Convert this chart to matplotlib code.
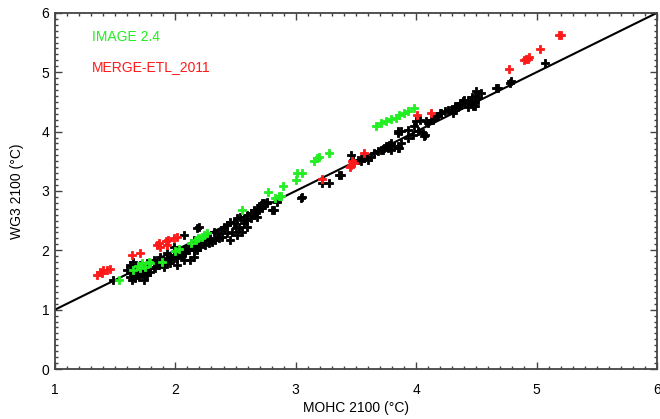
import numpy as np
import matplotlib.pyplot as plt
from matplotlib.ticker import MultipleLocator

plt.rcParams['font.family'] = ['Liberation Sans', 'DejaVu Sans']

# values (MOHC 2100, WG3 2100)
black_x = [1.486, 1.639, 1.667, 1.694, 1.653, 1.681, 1.722, 1.750, 1.778, 1.792,
           1.819, 1.847, 1.875, 1.903, 1.931, 1.958, 1.986, 2.014, 2.056, 2.083,
           2.111, 2.153, 2.181, 2.208, 2.250, 2.278, 2.306, 2.333, 2.361, 2.389,
           2.403, 2.431, 2.472, 2.500, 2.528, 2.569, 2.597, 2.625, 2.653, 2.667,
           2.694, 2.722, 2.736, 2.764, 2.806, 2.847, 2.153, 2.125, 2.069, 2.042,
           1.986, 1.931, 1.875, 1.819, 1.764, 1.708, 1.625, 1.667, 1.750, 1.792,
           2.069, 2.458, 2.514, 2.556, 2.597, 2.681,
           1.597, 1.625, 1.667, 1.652, 1.708, 1.736, 1.764, 1.791, 1.833, 1.861,
           1.902, 1.930, 1.958, 1.986, 2.014, 2.041, 2.069, 2.097, 2.125, 2.152,
           2.180, 2.208, 2.236, 2.264, 2.291, 2.319, 2.347, 2.375, 2.402, 2.430,
           2.458, 2.486, 2.513, 2.541, 2.569, 2.597, 2.625, 2.652, 2.680, 2.708,
           2.736, 2.763, 2.180, 2.194, 1.958, 2.014, 1.819, 1.736, 2.152,
           2.722, 2.819, 3.041, 3.055, 3.222, 3.278, 3.375, 3.458, 3.514, 3.542,
           3.569, 3.597, 3.625, 3.652, 3.680, 3.708, 3.736, 3.750, 3.777, 3.791,
           3.819, 3.847, 3.875, 3.930, 3.972, 4.014, 3.847,
           3.361, 3.473, 3.570, 3.723, 3.764, 3.861, 3.792, 3.848, 3.931, 3.986,
           4.056, 4.070, 4.084, 4.125, 4.167, 4.195, 4.236, 4.264, 4.306, 4.320,
           4.348, 4.375, 4.403, 4.431, 4.459, 4.487, 4.514, 4.542, 4.681, 4.792,
           3.875, 4.000, 4.028, 4.069, 4.097, 4.139, 4.181, 4.208, 4.292, 4.319,
           4.361, 4.389, 4.458, 4.472, 4.486, 4.778, 5.069,
           4.320, 4.375, 4.400, 4.460, 4.500, 4.430, 4.490, 4.667]
black_y = [1.501, 1.501, 1.529, 1.557, 1.613, 1.641, 1.670, 1.641, 1.698, 1.641,
           1.726, 1.754, 1.782, 1.726, 1.810, 1.838, 1.866, 1.894, 1.923, 1.951,
           2.007, 2.035, 2.007, 2.063, 2.091, 2.119, 2.147, 2.175, 2.204, 2.232,
           2.400, 2.288, 2.316, 2.372, 2.400, 2.457, 2.513, 2.541, 2.597, 2.653,
           2.681, 2.709, 2.766, 2.794, 2.681, 2.822, 1.894, 1.838, 1.838, 1.979,
           2.063, 1.951, 1.894, 1.838, 1.782, 1.754, 1.754, 1.698, 1.585, 1.726,
           2.260, 2.175, 2.260, 2.316, 2.400, 2.569,
           1.670, 1.557, 1.585, 1.810, 1.613, 1.670, 1.585, 1.726, 1.698, 1.754,
           1.782, 1.866, 1.894, 1.923, 1.866, 1.951, 2.007, 2.035, 2.063, 2.007,
           2.091, 2.147, 2.175, 2.232, 2.204, 2.316, 2.288, 2.344, 2.372, 2.428,
           2.485, 2.457, 2.541, 2.569, 2.513, 2.597, 2.625, 2.681, 2.709, 2.766,
           2.794, 2.822, 2.372, 2.400, 1.782, 1.754, 1.810, 1.501, 2.175,
           2.793, 2.681, 2.878, 2.906, 3.131, 3.131, 3.271, 3.608, 3.524, 3.496,
           3.552, 3.524, 3.580, 3.637, 3.665, 3.693, 3.721, 3.749, 3.777, 3.693,
           3.749, 3.721, 3.805, 3.889, 3.946, 4.002, 3.974,
           3.272, 3.525, 3.581, 3.694, 3.722, 3.722, 3.806, 4.003, 4.031, 4.087,
           3.975, 3.947, 4.171, 4.199, 4.256, 4.312, 4.340, 4.368, 4.312, 4.396,
           4.424, 4.452, 4.481, 4.537, 4.509, 4.424, 4.565, 4.649, 4.733, 4.846,
           4.002, 4.171, 4.199, 3.918, 4.143, 4.199, 4.255, 4.312, 4.368, 4.424,
           4.480, 4.508, 4.480, 4.424, 4.593, 4.818, 5.155,
           4.370, 4.480, 4.540, 4.590, 4.680, 4.420, 4.480, 4.733]

green_x = [1.53, 1.65, 1.69, 1.72, 1.75, 1.78, 1.79, 1.71, 1.89, 2.00,
           2.03, 2.13, 2.17, 2.19, 2.24, 2.26, 2.22, 2.55, 2.77, 2.83,
           2.86, 2.88, 2.89, 3.00, 3.01, 3.05, 3.15, 3.18, 3.19, 3.28,
           3.67, 3.71, 3.75, 3.79, 3.83, 3.86, 3.90, 3.93, 3.98]
green_y = [1.50, 1.66, 1.73, 1.78, 1.72, 1.81, 1.78, 1.70, 1.81, 1.99,
           2.03, 2.12, 2.18, 2.20, 2.26, 2.29, 2.23, 2.68, 2.98, 2.88,
           2.91, 2.91, 3.09, 3.19, 3.30, 3.30, 3.51, 3.55, 3.58, 3.64,
           4.10, 4.14, 4.17, 4.21, 4.23, 4.28, 4.32, 4.34, 4.40]

red_x = [1.35, 1.375, 1.39, 1.40, 1.43, 1.46, 1.64, 1.71, 1.85, 1.86,
         1.875, 1.92, 1.93, 1.94, 1.99, 2.01, 3.22, 3.45, 3.46, 3.47,
         3.48, 3.57, 4.01, 4.12, 4.77, 4.90, 4.91, 4.93, 4.94, 5.03,
         5.19, 5.20]
red_y = [1.585, 1.64, 1.61, 1.67, 1.66, 1.68, 1.92, 1.96, 2.09, 2.12,
         2.06, 2.15, 2.09, 2.17, 2.20, 2.23, 3.20, 3.41, 3.44, 3.50,
         3.47, 3.64, 4.28, 4.31, 5.05, 5.20, 5.23, 5.22, 5.26, 5.39,
         5.62, 5.63]

fig = plt.figure(figsize=(6.6, 4.19), dpi=100)
ax = fig.add_axes([0.0833, 0.1193, 0.912, 0.850])

ax.plot([1, 6], [1, 6], color='black', lw=1.5, zorder=2)
ax.plot(black_x, black_y, 'P', color='black', ms=6, mew=0.6, zorder=3)
ax.plot(green_x, green_y, 'P', color='#22ee22', ms=6, mew=0.6, zorder=4)
ax.plot(red_x, red_y, 'P', color='#ff1a1a', ms=6, mew=0.6, zorder=5)

ax.text(1.31, 5.60, 'IMAGE 2.4', color='#22ee22', fontsize=10, va='center')
ax.text(1.31, 5.08, 'MERGE-ETL_2011', color='#ff1a1a', fontsize=10, va='center')

ax.set_xlim(1, 6)
ax.set_ylim(0, 6)
ax.xaxis.set_major_locator(MultipleLocator(1))
ax.yaxis.set_major_locator(MultipleLocator(1))
ax.xaxis.set_minor_locator(MultipleLocator(0.1))
ax.yaxis.set_minor_locator(MultipleLocator(0.1))
ax.tick_params(which='both', direction='in', top=True, right=True, color='#444444')
ax.tick_params(which='major', length=5, width=1)
ax.tick_params(which='minor', length=2.5, width=1)
ax.tick_params(axis='x', pad=10, labelsize=10)
ax.tick_params(axis='y', pad=4, labelsize=10)
for s in ax.spines.values():
    s.set_color('#444444')
    s.set_linewidth(1.3)

ax.set_xlabel('MOHC 2100 (°C)', fontsize=10)
ax.set_ylabel('WG3 2100 (°C)', fontsize=10)
ax.xaxis.set_label_coords(0.5, -0.09)
ax.yaxis.set_label_coords(-0.051, 0.5)

fig.savefig('out.png', dpi=100)
